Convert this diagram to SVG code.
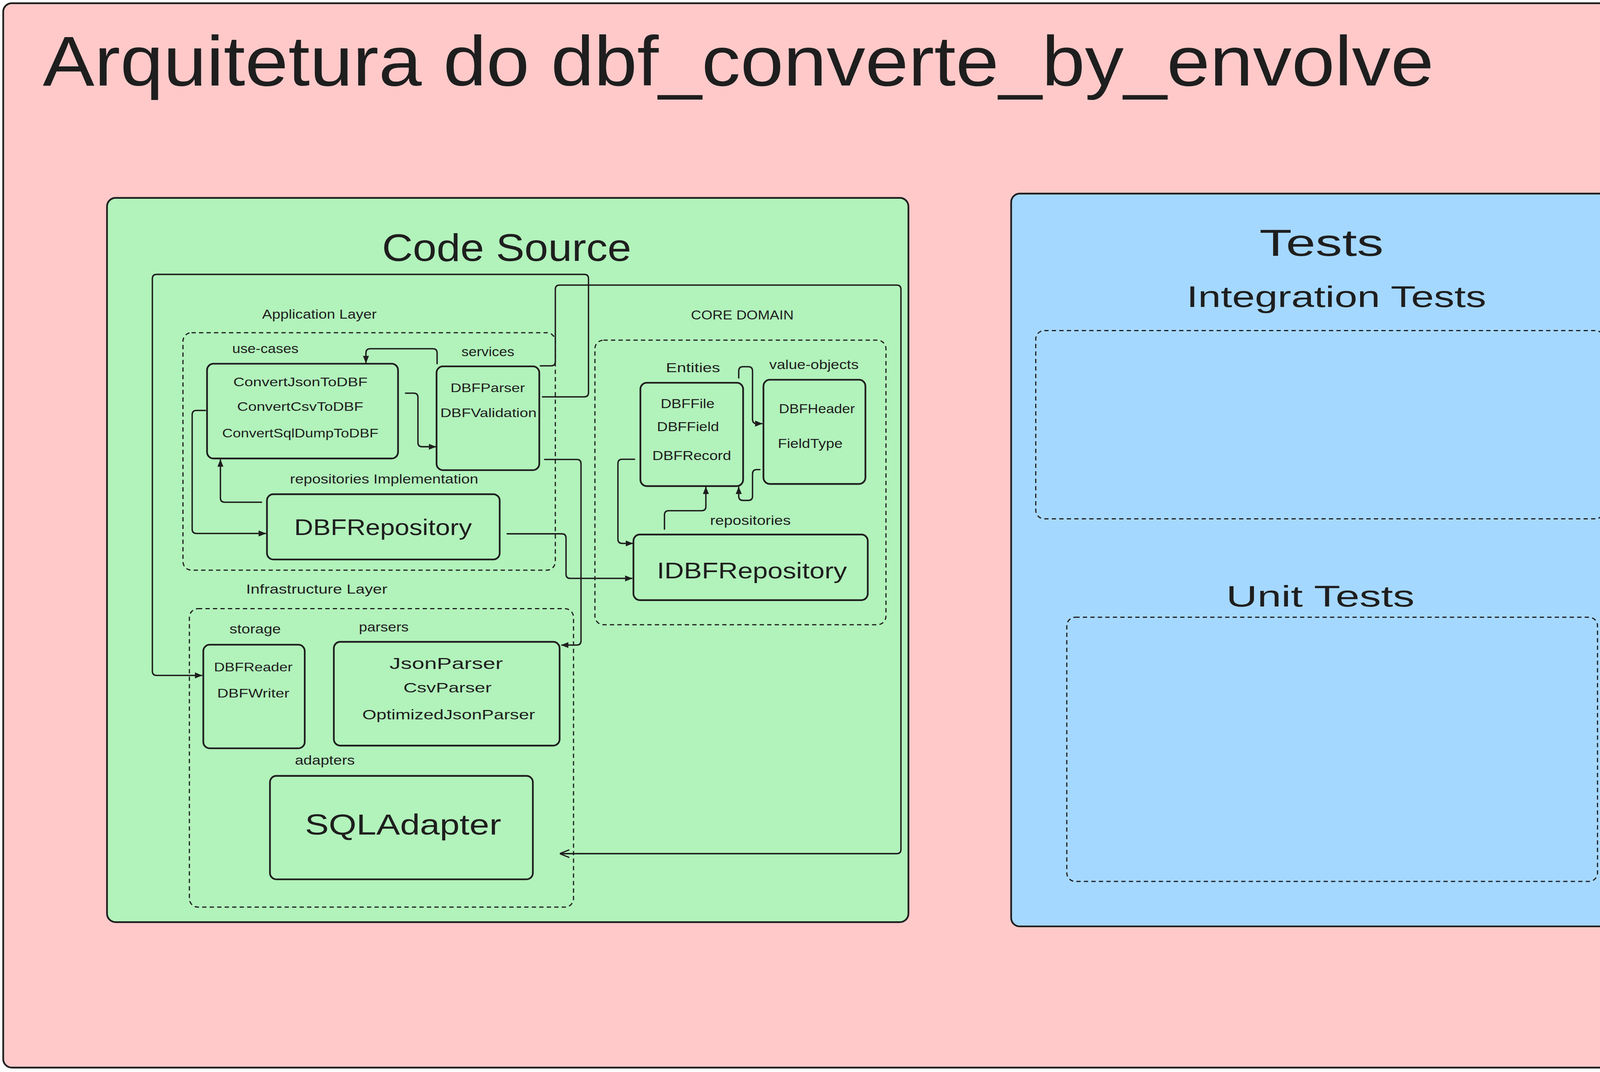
<svg xmlns="http://www.w3.org/2000/svg" width="4295" height="2745" viewBox="0 0 4295 2745">
<defs>
<style>
.frame{fill:#ffc9c9;stroke:#1e1e1e;stroke-width:1.6}
.green{fill:#b2f2bb;stroke:#1e1e1e;stroke-width:1.6}
.blue{fill:#a5d8ff;stroke:#1e1e1e;stroke-width:1.6}
.dash{fill:none;stroke:#1e1e1e;stroke-width:1.1;stroke-dasharray:4 3}
.box{fill:none;stroke:#1e1e1e;stroke-width:1.6}
.conn{fill:none;stroke:#1e1e1e;stroke-width:1.3;stroke-linejoin:round;stroke-linecap:round}
text{font-family:"Liberation Sans","DejaVu Sans",sans-serif;fill:#1e1e1e;text-anchor:middle}
.s{font-size:12px}
.m{font-size:11.5px}
</style>
<marker id="ah" viewBox="0 0 10 10" refX="9" refY="5" markerWidth="7" markerHeight="7" markerUnits="userSpaceOnUse" orient="auto">
<path d="M0,1 L10,5 L0,9 z" fill="#1e1e1e"/>
</marker>
<marker id="ao" viewBox="0 0 10 10" refX="9" refY="5" markerWidth="9" markerHeight="9" markerUnits="userSpaceOnUse" orient="auto">
<path d="M0,1 L10,5 L0,9" fill="none" stroke="#1e1e1e" stroke-width="1.3"/>
</marker>
</defs>
<g transform="scale(2.7392)">
<g id="frame">
<rect class="frame" x="3" y="3" width="1562" height="995" rx="8"/>
<text x="690" y="80" style="font-size:66px" textLength="1300" lengthAdjust="spacingAndGlyphs">Arquitetura do dbf_converte_by_envolve</text>
</g>
<g id="code-source">
<rect class="green" x="100" y="185" width="749" height="677" rx="8"/>
<text x="473.5" y="244" style="font-size:36px" textLength="233" lengthAdjust="spacingAndGlyphs">Code Source</text>
</g>
<g id="tests">
<rect class="blue" x="945" y="181" width="574" height="685" rx="8"/>
<text x="1235" y="239" style="font-size:35px" textLength="116" lengthAdjust="spacingAndGlyphs">Tests</text>
</g>
<g id="integration-tests">
<text x="1249" y="287" style="font-size:28px" textLength="280" lengthAdjust="spacingAndGlyphs">Integration Tests</text>
<rect class="dash" x="968" y="309" width="531" height="176" rx="8"/>
</g>
<g id="unit-tests">
<text x="1234" y="567" style="font-size:28px" textLength="176" lengthAdjust="spacingAndGlyphs">Unit Tests</text>
<rect class="dash" x="997" y="577" width="496" height="247" rx="8"/>
</g>
<g id="application-layer">
<text class="s" x="298.5" y="298" textLength="107" lengthAdjust="spacingAndGlyphs">Application Layer</text>
<rect class="dash" x="171" y="311" width="348" height="222" rx="8"/>
</g>
<g id="use-cases">
<text class="s" x="248" y="330" textLength="62" lengthAdjust="spacingAndGlyphs">use-cases</text>
<rect class="box" x="193.5" y="340" width="178.5" height="88.6" rx="6"/>
<text class="m" x="280.75" y="361" textLength="125.5" lengthAdjust="spacingAndGlyphs">ConvertJsonToDBF</text>
<text class="m" x="280.6" y="384" textLength="118" lengthAdjust="spacingAndGlyphs">ConvertCsvToDBF</text>
<text class="m" x="280.6" y="409" textLength="146" lengthAdjust="spacingAndGlyphs">ConvertSqlDumpToDBF</text>
</g>
<g id="services">
<text class="s" x="456" y="333" textLength="49.5" lengthAdjust="spacingAndGlyphs">services</text>
<rect class="box" x="408" y="342.5" width="96" height="97" rx="6"/>
<text class="m" x="455.8" y="366.5" textLength="69.6" lengthAdjust="spacingAndGlyphs">DBFParser</text>
<text class="m" x="456.5" y="390" textLength="90" lengthAdjust="spacingAndGlyphs">DBFValidation</text>
</g>
<g id="dbf-repository">
<text class="s" x="359" y="452" textLength="176" lengthAdjust="spacingAndGlyphs">repositories Implementation</text>
<rect class="box" x="249.5" y="462" width="217.5" height="61" rx="6"/>
<text x="358" y="500" style="font-size:21px" textLength="166" lengthAdjust="spacingAndGlyphs">DBFRepository</text>
</g>
<g id="core-domain">
<text class="s" x="693.7" y="298.6" textLength="96" lengthAdjust="spacingAndGlyphs">CORE DOMAIN</text>
<rect class="dash" x="556" y="318" width="272" height="266" rx="8"/>
</g>
<g id="entities">
<text class="s" x="647.7" y="348" textLength="50.6" lengthAdjust="spacingAndGlyphs">Entities</text>
<rect class="box" x="598.5" y="357.8" width="96" height="96.6" rx="6"/>
<text class="s" x="642.6" y="381.4" textLength="50.4" lengthAdjust="spacingAndGlyphs">DBFFile</text>
<text class="s" x="643" y="403" textLength="58" lengthAdjust="spacingAndGlyphs">DBFField</text>
<text class="s" x="646.5" y="430" textLength="73.6" lengthAdjust="spacingAndGlyphs">DBFRecord</text>
</g>
<g id="value-objects">
<text class="s" x="760.7" y="344.9" textLength="83.5" lengthAdjust="spacingAndGlyphs">value-objects</text>
<rect class="box" x="713.5" y="355" width="95.3" height="97.4" rx="6"/>
<text class="s" x="763.5" y="386.4" textLength="71" lengthAdjust="spacingAndGlyphs">DBFHeader</text>
<text class="s" x="757.2" y="418.6" textLength="60.5" lengthAdjust="spacingAndGlyphs">FieldType</text>
</g>
<g id="idbf-repository">
<text class="s" x="701.3" y="490.8" textLength="75.4" lengthAdjust="spacingAndGlyphs">repositories</text>
<rect class="box" x="592" y="499.7" width="219" height="61.3" rx="6"/>
<text x="702.8" y="540.7" style="font-size:21px" textLength="177.6" lengthAdjust="spacingAndGlyphs">IDBFRepository</text>
</g>
<g id="infrastructure-layer">
<text class="s" x="296" y="555" textLength="132" lengthAdjust="spacingAndGlyphs">Infrastructure Layer</text>
<rect class="dash" x="177" y="569" width="359" height="279" rx="8"/>
</g>
<g id="storage">
<text class="s" x="238.5" y="592" textLength="48" lengthAdjust="spacingAndGlyphs">storage</text>
<rect class="box" x="190" y="602.7" width="94.8" height="96.8" rx="6"/>
<text class="m" x="236.7" y="627.5" textLength="73.4" lengthAdjust="spacingAndGlyphs">DBFReader</text>
<text class="m" x="236.7" y="652" textLength="67.5" lengthAdjust="spacingAndGlyphs">DBFWriter</text>
</g>
<g id="parsers">
<text class="s" x="358.7" y="590.5" textLength="46.5" lengthAdjust="spacingAndGlyphs">parsers</text>
<rect class="box" x="312" y="600" width="211" height="97" rx="6"/>
<text x="417" y="625.4" style="font-size:15px" textLength="106" lengthAdjust="spacingAndGlyphs">JsonParser</text>
<text x="418.2" y="647.3" style="font-size:13px" textLength="82.4" lengthAdjust="spacingAndGlyphs">CsvParser</text>
<text x="419.3" y="672.5" style="font-size:13px" textLength="161.4" lengthAdjust="spacingAndGlyphs">OptimizedJsonParser</text>
</g>
<g id="adapters">
<text class="s" x="303.6" y="714.8" textLength="56" lengthAdjust="spacingAndGlyphs">adapters</text>
<rect class="box" x="252.3" y="725.3" width="245.7" height="96.7" rx="6"/>
<text x="376.7" y="780" style="font-size:27px" textLength="183.4" lengthAdjust="spacingAndGlyphs">SQLAdapter</text>
</g>
<g id="connectors">
<path class="conn" marker-end="url(#ah)" d="M408.5 340 V330 Q408.5 326 404.5 326 H346 Q342 326 342 330 V339"/>
<path class="conn" marker-end="url(#ah)" d="M379 367.5 H386.6 Q390.6 367.5 390.6 371.5 V413.6 Q390.6 417.6 394.6 417.6 H407"/>
<path class="conn" marker-end="url(#ah)" d="M192 383.7 H183.6 Q179.6 383.7 179.6 387.7 V494.7 Q179.6 498.7 183.6 498.7 H248"/>
<path class="conn" marker-end="url(#ah)" d="M244.4 469.5 H210 Q206 469.5 206 465.5 V430"/>
<path class="conn" marker-end="url(#ah)" d="M507 371 H546 Q550 371 550 367 V260.5 Q550 256.5 546 256.5 H146.4 Q142.4 256.5 142.4 260.5 V627.4 Q142.4 631.4 146.4 631.4 H188.5"/>
<path class="conn" marker-end="url(#ah)" d="M509 429.5 H539 Q543 429.5 543 433.5 V599 Q543 603 539 603 H525"/>
<path class="conn" marker-end="url(#ah)" d="M474 499 H525 Q529 499 529 503 V536.7 Q529 540.7 533 540.7 H590.5"/>
<path class="conn" marker-end="url(#ao)" d="M505 342 H515 Q519 342 519 338 V270.5 Q519 266.5 523 266.5 H838 Q842 266.5 842 270.5 V794 Q842 798 838 798 H524"/>
<path class="conn" marker-end="url(#ah)" d="M690.4 353.3 V346.8 Q690.4 342.8 694.4 342.8 H699.3 Q703.3 342.8 703.3 346.8 V392 Q703.3 396 707.3 396 H712"/>
<path class="conn" marker-end="url(#ah)" d="M710.2 439 H707.3 Q703.3 439 703.3 443 V463.8 Q703.3 467.8 699.3 467.8 H694.4 Q690.4 467.8 690.4 463.8 V455.5"/>
<path class="conn" marker-end="url(#ah)" d="M593 429.3 H581.5 Q577.5 429.3 577.5 433.3 V504 Q577.5 508 581.5 508 H591"/>
<path class="conn" marker-end="url(#ah)" d="M621 494.7 V481.4 Q621 477.4 625 477.4 H655.7 Q659.7 477.4 659.7 473.4 V455.5"/>
</g>
</g>
</svg>
